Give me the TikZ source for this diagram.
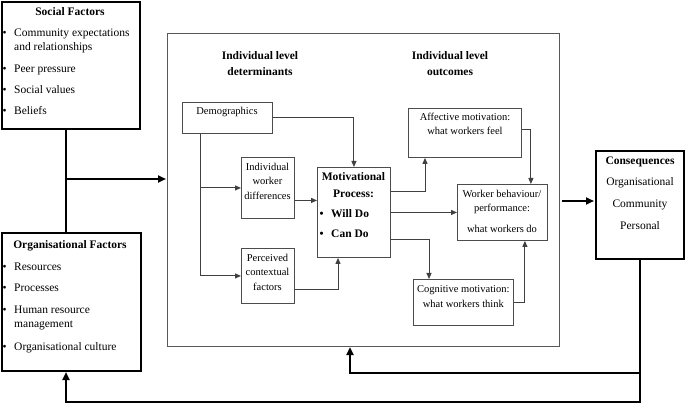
\documentclass[tikz,border=0pt]{standalone}
\usepackage{fontspec}
\setmainfont{Liberation Serif}
\usetikzlibrary{arrows.meta}
\begin{document}
\begin{tikzpicture}[x=1pt,y=-1pt,
  thinbox/.style={draw=black!70, line width=0.9pt, inner sep=0pt, anchor=north west},
  thickbox/.style={draw=black, line width=2pt, inner sep=0pt, anchor=north west},
  bigbox/.style={draw=black!65, line width=1.1pt, inner sep=0pt, anchor=north west},
  conn/.style={draw=black!75, line width=1pt, -{Triangle[length=6pt,width=5pt]}},
  thickconn/.style={draw=black, line width=2.2pt, -{Triangle[length=8pt,width=7pt]}},
  thickline/.style={draw=black, line width=2.2pt},
  bt/.style={inner sep=0pt, anchor=base, font=\fontsize{11.5}{14}\selectfont},
  bl/.style={inner sep=0pt, anchor=base west, font=\fontsize{11.5}{14}\selectfont},
  hd/.style={inner sep=0pt, anchor=base, font=\fontsize{11.5}{14}\selectfont\bfseries},
  hl/.style={inner sep=0pt, anchor=base west, font=\fontsize{11.5}{14}\selectfont\bfseries},
  st/.style={inner sep=0pt, anchor=base, font=\fontsize{10.5}{14}\selectfont},
]
\useasboundingbox[fill=white] (0,0) rectangle (685,403);

% boxes
\node[thickbox, minimum width=138pt, minimum height=127pt] (social) at (1,1) {};
\node[thickbox, minimum width=139pt, minimum height=138pt] (org) at (1,232) {};
\node[bigbox, minimum width=392pt, minimum height=313pt] (big) at (167,33) {};
\node[thinbox, minimum width=90pt, minimum height=31pt] (demo) at (182,102) {};
\node[thinbox, minimum width=53pt, minimum height=61pt] (iwd) at (241,157) {};
\node[thinbox, minimum width=53pt, minimum height=55pt] (pcf) at (241,248) {};
\node[thinbox, minimum width=73pt, minimum height=90pt] (mp) at (317,167) {};
\node[thinbox, minimum width=113pt, minimum height=49pt] (aff) at (408,108) {};
\node[thinbox, minimum width=90pt, minimum height=56pt] (wb) at (457,184) {};
\node[thinbox, minimum width=100pt, minimum height=46pt] (cog) at (413,279) {};
\node[thickbox, minimum width=88pt, minimum height=108pt] (cons) at (595,150) {};

% Social factors text
\node[hd] (st0) at (70,15.7) {Social Factors};
\node[bl] (sb1) at (2.5,36.3) {•};
\node[bl] (st1) at (14,36.3) {Community expectations};
\node[bl] (st1b) at (14,50.7) {and relationships};
\node[bl] (sb2) at (2.5,72.7) {•};
\node[bl] (st2) at (14,72.7) {Peer pressure};
\node[bl] (sb3) at (2.5,94) {•};
\node[bl] (st3) at (14,94) {Social values};
\node[bl] (sb4) at (2.5,115) {•};
\node[bl] (st4) at (14,115) {Beliefs};

% Organisational factors text
\node[hd] (ot0) at (70,248.3) {Organisational Factors};
\node[bl] (ob1) at (2.5,270) {•};
\node[bl] (ot1) at (14,270) {Resources};
\node[bl] (ob2) at (2.5,291.7) {•};
\node[bl] (ot2) at (14,291.7) {Processes};
\node[bl] (ob3) at (2.5,313.3) {•};
\node[bl] (ot3) at (14,313.3) {Human resource};
\node[bl] (ot3b) at (14,327.5) {management};
\node[bl] (ob4) at (2.5,350.7) {•};
\node[bl] (ot4) at (14,350.7) {Organisational culture};

% Consequences
\node[hd] (ct0) at (640,165) {Consequences};
\node[bt] (ct1) at (640,186) {Organisational};
\node[bt] (ct2) at (640,207.7) {Community};
\node[bt] (ct3) at (640,229.7) {Personal};

% headers
\node[hd] (h1a) at (260,59.3) {Individual level};
\node[hd] (h1b) at (260,75.3) {determinants};
\node[hd] (h2a) at (450,60) {Individual level};
\node[hd] (h2b) at (450,75.7) {outcomes};

% small box texts
\node[st] (dt) at (227,115) {Demographics};
\node[st] (it1) at (267.5,170.7) {Individual};
\node[st] (it2) at (267.5,185) {worker};
\node[st] (it3) at (267.5,199.3) {differences};
\node[st] (pt1) at (267.5,261.7) {Perceived};
\node[st] (pt2) at (267.5,276) {contextual};
\node[st] (pt3) at (267.5,290.7) {factors};
\node[hd] (mt1) at (353.5,181) {Motivational};
\node[hd] (mt2) at (353.5,197.3) {Process:};
\node[hl] (mb1) at (319.5,217.7) {•};
\node[hl] (mt3) at (331,217.7) {Will Do};
\node[hl] (mb2) at (319.5,237.7) {•};
\node[hl] (mt4) at (331,237.7) {Can Do};
\node[st] (at1) at (465,121) {Affective motivation:};
\node[st] (at2) at (465,134.7) {what workers feel};
\node[st] (wt1) at (502,197.7) {Worker behaviour/};
\node[st] (wt2) at (502,211.3) {performance:};
\node[st] (wt3) at (502,232.3) {what workers do};
\node[st] (gt1) at (463.3,292.7) {Cognitive motivation:};
\node[st] (gt2) at (463.3,307.3) {what workers think};

% helper coordinates
\coordinate (j) at (66,179);
\path (demo.south west) ++(18,0) coordinate (dd);
\path (iwd.east) ++(0,12.5) coordinate (i1);
\path (pcf.east) ++(0,13.5) coordinate (p1);
\path (mp.south west) ++(21,0) coordinate (m0);
\path (mp.north east) ++(0,25) coordinate (m1);
\path (aff.south west) ++(17,0) coordinate (a1);
\path (mp.south east) ++(0,-18) coordinate (m2);
\path (cog.north west) ++(16,0) coordinate (c1);
\path (aff.east) ++(0,-3.5) coordinate (a2);
\path (wb.north east) ++(-17,0) coordinate (w1);
\path (wb.south east) ++(-23,0) coordinate (w2);
\path (cons.west) ++(0,-4) coordinate (k1);
\path (big.east |- k1) ++(2,0) coordinate (k0);
\path (cons.south west) ++(45,0) coordinate (cb);
\path (cb) ++(0,142) coordinate (cc);
\path (cb) ++(0,113) coordinate (cd);
\path (big.south west) ++(183,0) coordinate (bs);

% connectors
\draw[thickline] (social.south -| j) -- (org.north -| j);
\draw[thickconn, shorten >=1pt] (j) -- (j -| big.west);
\draw[conn] (demo.east) -| (mp.north);
\draw[conn] (dd) |- (iwd.west);
\draw[conn] (dd) |- (pcf.west);
\draw[conn] (i1) -- (i1 -| mp.west);
\draw[conn] (p1) -| (m0);
\draw[conn] (m1) -| (a1);
\draw[conn] (mp.east) -- (wb.west);
\draw[conn] (m2) -| (c1);
\draw[conn] (a2) -| (w1);
\draw[conn] (cog.east) -| (w2);
\draw[thickconn, shorten >=1pt] (k0) -- (k1);
\draw[thickconn] (cb) -- (cc) -| (org.south -| j);
\draw[thickconn] (cd) -| (bs);
\end{tikzpicture}
\end{document}
